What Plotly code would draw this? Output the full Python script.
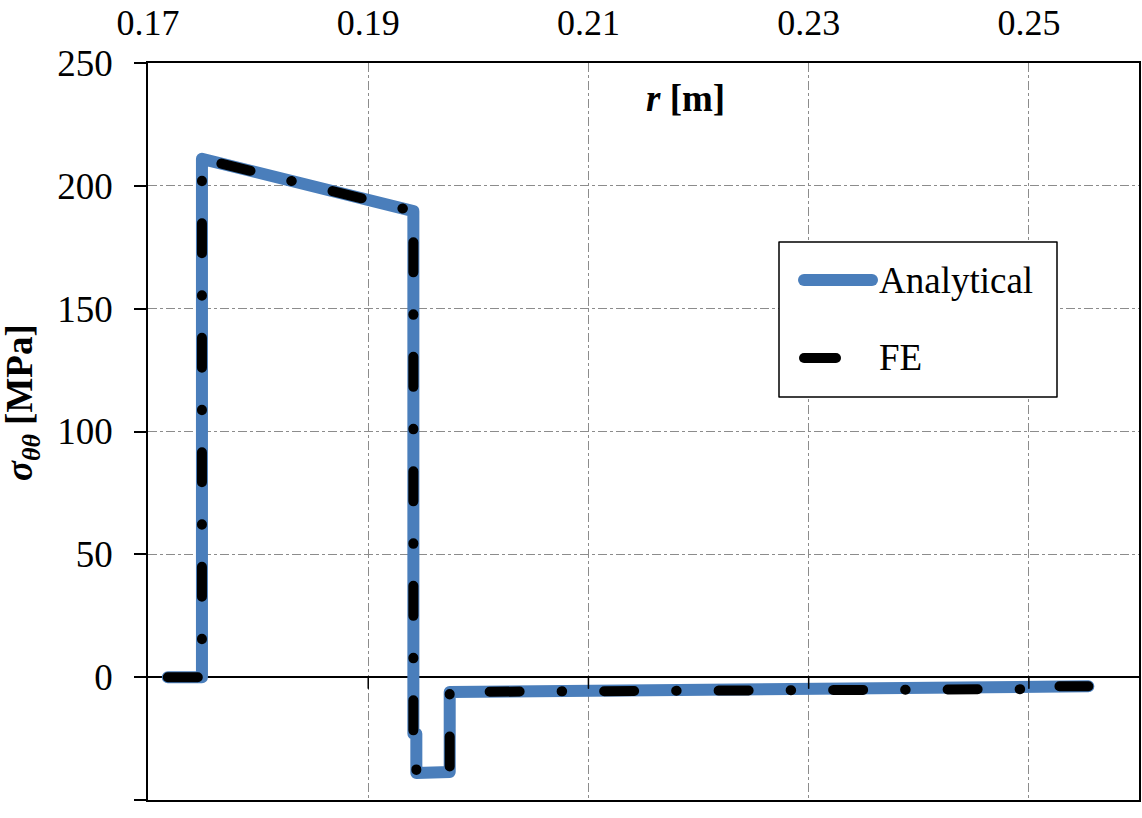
import plotly.graph_objects as go

# ---- data ----
r_analytical = [0.1718, 0.1749, 0.1749, 0.1941, 0.1941, 0.19437, 0.19437, 0.1974, 0.1974, 0.2100, 0.2300, 0.2526, 0.2526, 0.2554]
s_analytical = [0.0, 0.0, 211.0, 189.7, -23.0, -23.0, -39.0, -38.6, -6.0, -5.6, -5.1, -4.8, -3.7, -3.7]

r_fe = [0.1718, 0.1749, 0.1749, 0.1941, 0.1941, 0.19437, 0.19437, 0.1974, 0.1974, 0.2100, 0.2300, 0.2526, 0.2526, 0.2554]
s_fe = [0.0, 0.0, 211.0, 189.7, -23.0, -23.0, -39.0, -38.6, -6.0, -5.6, -5.1, -4.8, -3.7, -3.7]

x_ticks = [0.17, 0.19, 0.21, 0.23, 0.25]
x_ticktext = ["0.17", "0.19", "0.21", "0.23", "0.25"]
y_ticks = [-50, 0, 50, 100, 150, 200, 250]
y_ticktext = ["-50", "0", "50", "100", "150", "200", "250"]

series_names = ["Analytical", "FE"]

FONT = "Times New Roman, Liberation Serif, serif"
BLUE = "#4a7ebb"
FS = 37

fig = go.Figure()
fig.add_trace(go.Scatter(x=r_analytical, y=s_analytical, mode="lines", name=series_names[0],
                         line=dict(color=BLUE, width=12), showlegend=False))
fig.add_trace(go.Scatter(x=r_fe, y=s_fe, mode="lines", name=series_names[1],
                         line=dict(color="black", width=10, dash="30px,42px,0.5px,42px"), showlegend=False))

# plot-area geometry in pixels (for paper-coordinate placement)
L, R, T, B = 148, 1139, 63, 800
def px(x):
    return (x - L) / (R - L)
def py(y):
    return (B - y) / (B - T)

shapes = [
    # legend box
    dict(type="rect", xref="paper", yref="paper", x0=px(779), x1=px(1057), y0=py(397), y1=py(242),
         line=dict(color="black", width=1.5), fillcolor="white", layer="above"),
    dict(type="line", xref="paper", yref="paper", x0=px(804), x1=px(872), y0=py(280), y1=py(280),
         line=dict(color=BLUE, width=12), layer="above"),
    dict(type="line", xref="paper", yref="paper", x0=px(804), x1=px(836), y0=py(358), y1=py(358),
         line=dict(color="black", width=10), layer="above"),
]
# small tick marks where the horizontal axis crosses at y = 0
for xv in x_ticks[1:]:
    shapes.append(dict(type="line", xref="x", yref="y",
                       x0=xv, x1=xv, y0=0, y1=-4.5, line=dict(color="black", width=1.5), layer="above"))

annotations = [
    dict(text=series_names[0], xref="paper", yref="paper", x=px(877), y=py(280), xanchor="left", yanchor="middle",
         showarrow=False, font=dict(family=FONT, size=FS, color="black")),
    dict(text=series_names[1], xref="paper", yref="paper", x=px(877), y=py(358), xanchor="left", yanchor="middle",
         showarrow=False, font=dict(family=FONT, size=FS, color="black")),
    dict(text="<b><i>r</i> [m]</b>", xref="paper", yref="paper", x=px(685), y=py(98), xanchor="center", yanchor="middle",
         showarrow=False, font=dict(family=FONT, size=FS, color="black")),
    dict(text="<b><i>σ</i><sub><i>θθ</i></sub> [MPa]</b>", xref="paper", yref="paper", x=px(22), y=py(403),
         xanchor="center", yanchor="middle", textangle=-90,
         showarrow=False, font=dict(family=FONT, size=FS, color="black")),
]

fig.update_layout(
    width=1142, height=818,
    margin=dict(l=L, r=1142 - R, t=T, b=818 - B, autoexpand=False),
    paper_bgcolor="white", plot_bgcolor="white",
    font=dict(family=FONT, size=FS, color="black"),
    shapes=shapes, annotations=annotations, showlegend=False,
)
fig.update_xaxes(
    side="top", range=[0.17, 0.26], tickvals=x_ticks, ticktext=x_ticktext,
    ticks="", ticklabelstandoff=12, automargin=False,
    showgrid=True, gridcolor="#8c8c8c", griddash="dashdot", gridwidth=1.2,
    showline=True, linecolor="black", linewidth=1.8, mirror=True, zeroline=False,
    tickfont=dict(family=FONT, size=36, color="black"),
)
fig.update_yaxes(
    range=[-50, 250], tickvals=y_ticks, ticktext=y_ticktext,
    ticks="outside", ticklen=12, tickwidth=1.5, tickcolor="black", ticklabelstandoff=14,
    automargin=False,
    showgrid=True, gridcolor="#8c8c8c", griddash="dashdot", gridwidth=1.2,
    showline=True, linecolor="black", linewidth=1.8, mirror=True,
    zeroline=True, zerolinecolor="black", zerolinewidth=1.5,
    tickfont=dict(family=FONT, size=FS, color="black"),
)

post = """
var gd = document.getElementById('{plot_id}');
gd.querySelectorAll('.scatterlayer path.js-line, .shapelayer path').forEach(function(p){
  p.style.strokeLinecap = 'round';
  p.style.strokeLinejoin = 'round';
});
"""
fig.write_html("out.html", post_script=post)
